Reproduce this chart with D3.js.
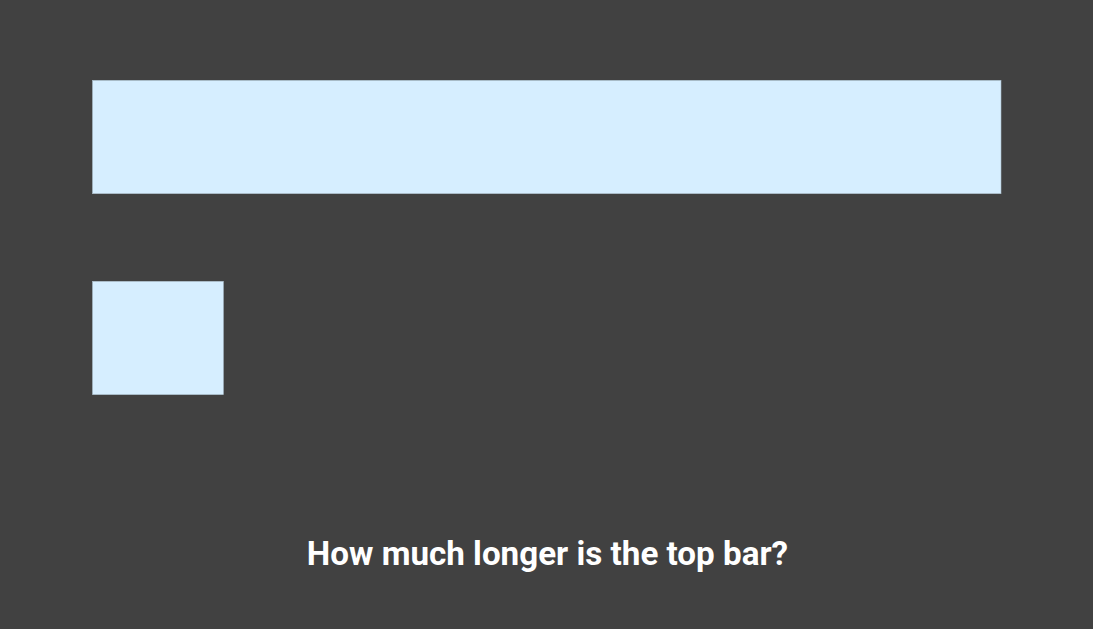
<!DOCTYPE html>
<html>
<head>
<meta charset="utf-8">
<script src="https://cdn.jsdelivr.net/npm/d3@7"></script>
<style>
html,body{margin:0;padding:0;background:#414141;overflow:hidden;}
</style>
</head>
<body>
<svg id="chart" width="1093" height="629"></svg>
<script>
const categories = ["top", "bottom"];
const values = [6.94, 1];
const title = "How much longer is the top bar?";

const svg = d3.select("#chart");
svg.append("rect").attr("width", 1093).attr("height", 629).attr("fill", "#414141");

const x = d3.scaleLinear().domain([0, d3.max(values)]).range([92.5, 1001]);
const y = d3.scaleBand().domain(categories).range([80.3, 394.7]).paddingInner(0.4358).paddingOuter(0);

svg.selectAll("rect.bar")
  .data(categories)
  .join("rect")
  .attr("class", "bar")
  .attr("x", x(0))
  .attr("y", d => y(d))
  .attr("width", (d, i) => x(values[i]) - x(0))
  .attr("height", y.bandwidth())
  .attr("fill", "#d6eeff")
  .attr("stroke", "#a9bcc8")
  .attr("stroke-width", 0.6);

svg.append("text")
  .attr("x", 547.5)
  .attr("y", 565)
  .attr("text-anchor", "middle")
  .attr("fill", "#ffffff")
  .attr("font-family", "Roboto, sans-serif")
  .attr("font-weight", 700)
  .attr("font-size", 33.2)
  .text(title);
</script>
</body>
</html>
